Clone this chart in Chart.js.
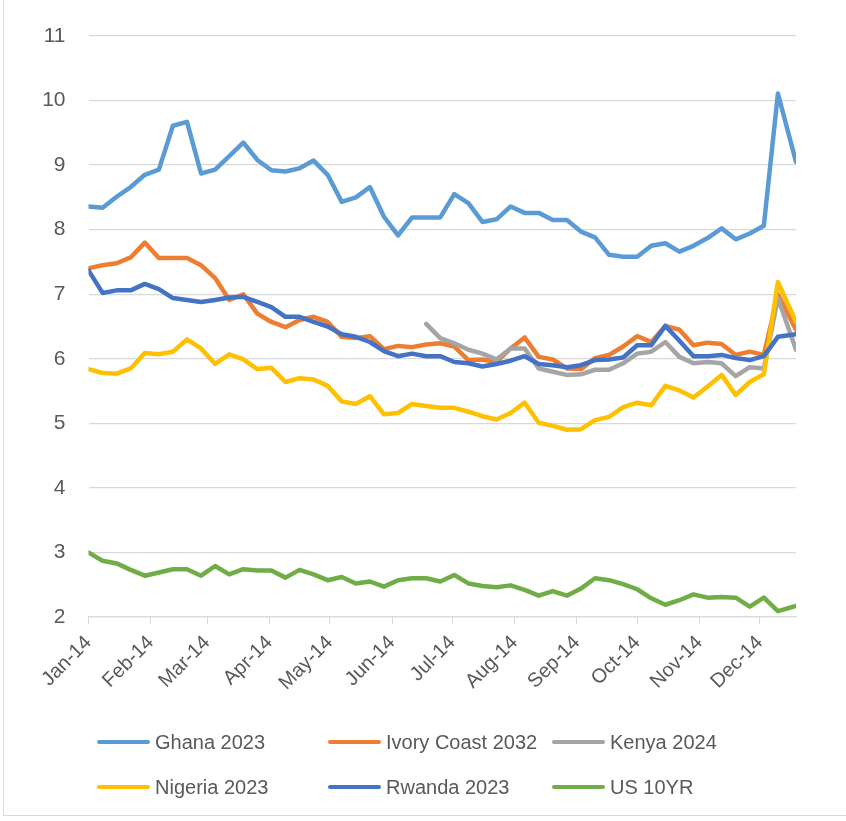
<!DOCTYPE html>
<html>
<head>
<meta charset="utf-8">
<script src="https://cdn.jsdelivr.net/npm/chart.js@4/dist/chart.umd.min.js"></script>
<style>
  html, body { margin: 0; padding: 0; background: #fff; }
  #wrap { position: relative; width: 846px; height: 821px; overflow: hidden; }
  #frame { position: absolute; left: 3px; top: -2px; width: 860px; height: 818px;
           border-left: 1px solid #d9d9d9; border-bottom: 1px solid #d9d9d9; box-sizing: border-box; }
  canvas { position: absolute; left: 0; top: 0; }
  #legend { position: absolute; left: 97px; top: 730px; width: 720px;
            display: grid; grid-template-columns: 231px 224px 230px; row-gap: 21px;
            font-family: "Liberation Sans", Arial, sans-serif; font-size: 20px; color: #595959; }
  .item { display: flex; align-items: center; white-space: nowrap; height: 24px; }
  .swatch { width: 53px; height: 4px; border-radius: 2px; margin-right: 5px; flex: none; }
</style>
</head>
<body>
<div id="wrap">
  <div id="frame"></div>
  <canvas id="chart" width="846" height="821"></canvas>
  <div id="legend"></div>
</div>
<script>
// Weekly observation dates (last one is a mid-week close)
const weekDates = [
  '2014-01-01','2014-01-08','2014-01-15','2014-01-22','2014-01-29',
  '2014-02-05','2014-02-12','2014-02-19','2014-02-26',
  '2014-03-05','2014-03-12','2014-03-19','2014-03-26',
  '2014-04-02','2014-04-09','2014-04-16','2014-04-23','2014-04-30',
  '2014-05-07','2014-05-14','2014-05-21','2014-05-28',
  '2014-06-04','2014-06-11','2014-06-18','2014-06-25',
  '2014-07-02','2014-07-09','2014-07-16','2014-07-23','2014-07-30',
  '2014-08-06','2014-08-13','2014-08-20','2014-08-27',
  '2014-09-03','2014-09-10','2014-09-17','2014-09-24',
  '2014-10-01','2014-10-08','2014-10-15','2014-10-22','2014-10-29',
  '2014-11-05','2014-11-12','2014-11-19','2014-11-26',
  '2014-12-03','2014-12-10','2014-12-19'
];

// Month ticks on the date axis
const monthStarts = ['2014-01-01','2014-02-01','2014-03-01','2014-04-01','2014-05-01','2014-06-01',
                     '2014-07-01','2014-08-01','2014-09-01','2014-10-01','2014-11-01','2014-12-01'];
const monthLabels = ['Jan-14','Feb-14','Mar-14','Apr-14','May-14','Jun-14',
                     'Jul-14','Aug-14','Sep-14','Oct-14','Nov-14','Dec-14'];

// Yields (%)
const ghana2023 = [8.36,8.34,8.51,8.66,8.85,8.93,9.61,9.67,8.87,8.93,
                   9.14,9.35,9.08,8.92,8.90,8.95,9.07,8.85,8.43,8.50,
                   8.66,8.20,7.91,8.19,8.19,8.19,8.55,8.41,8.12,8.16,
                   8.36,8.26,8.26,8.15,8.15,7.97,7.88,7.61,7.58,7.58,
                   7.75,7.79,7.66,7.75,7.87,8.02,7.85,7.94,8.06,10.11,9.05];
const ivoryCoast2032 = [7.40,7.45,7.48,7.57,7.80,7.56,7.56,7.56,7.45,7.25,
                        6.91,7.00,6.70,6.57,6.49,6.60,6.65,6.57,6.34,6.32,
                        6.35,6.15,6.20,6.18,6.22,6.24,6.19,5.98,5.99,5.95,
                        6.16,6.33,6.03,5.99,5.85,5.84,6.01,6.06,6.19,6.35,
                        6.26,6.51,6.45,6.21,6.25,6.23,6.06,6.11,6.06,7.00,6.45];
const kenya2024 = [null,null,null,null,null,null,null,null,null,null,
                   null,null,null,null,null,null,null,null,null,null,
                   null,null,null,null,6.54,6.32,6.24,6.14,6.08,5.99,
                   6.16,6.16,5.85,5.80,5.75,5.76,5.83,5.83,5.93,6.08,
                   6.11,6.26,6.03,5.93,5.95,5.93,5.73,5.87,5.85,6.94,6.14];
const nigeria2023 = [5.84,5.78,5.77,5.85,6.09,6.07,6.11,6.30,6.16,5.92,
                     6.07,5.99,5.84,5.86,5.64,5.70,5.68,5.58,5.34,5.30,
                     5.42,5.14,5.16,5.30,5.27,5.24,5.24,5.18,5.11,5.06,
                     5.16,5.32,5.01,4.96,4.90,4.91,5.05,5.10,5.25,5.32,
                     5.28,5.58,5.51,5.40,5.57,5.75,5.44,5.64,5.76,7.19,6.57];
const rwanda2023 = [7.37,7.02,7.06,7.06,7.16,7.08,6.94,6.91,6.88,6.91,
                    6.95,6.96,6.88,6.80,6.65,6.65,6.57,6.50,6.38,6.34,
                    6.26,6.12,6.04,6.08,6.04,6.04,5.95,5.93,5.88,5.92,
                    5.97,6.04,5.92,5.90,5.87,5.90,5.98,5.99,6.02,6.21,
                    6.21,6.51,6.28,6.04,6.04,6.06,6.01,5.98,6.04,6.34,6.38];
const us10yr = [3.00,2.87,2.83,2.73,2.64,2.69,2.74,2.74,2.64,2.79,
                2.66,2.74,2.72,2.72,2.61,2.73,2.66,2.57,2.62,2.52,
                2.55,2.47,2.57,2.60,2.60,2.55,2.65,2.52,2.48,2.46,
                2.49,2.42,2.33,2.40,2.33,2.44,2.60,2.57,2.51,2.43,
                2.29,2.19,2.26,2.35,2.30,2.31,2.30,2.16,2.30,2.09,2.17];

const seriesNames  = ['Ghana 2023','Ivory Coast 2032','Kenya 2024','Nigeria 2023','Rwanda 2023','US 10YR'];
const seriesValues = [ghana2023, ivoryCoast2032, kenya2024, nigeria2023, rwanda2023, us10yr];
const seriesColors = ['#5B9BD5','#ED7D31','#A5A5A5','#FFC000','#4472C4','#70AD47'];

const yTicks = [2,3,4,5,6,7,8,9,10,11];

const DAY = 86400000;
const origin = Date.parse(weekDates[0]);
const toDay = d => Math.round((Date.parse(d) - origin) / DAY);
const xDays = weekDates.map(toDay);
const monthDays = monthStarts.map(toDay);

const FONT = '"Liberation Sans", Arial, sans-serif';
const GRID = '#D9D9D9';
const TEXT = '#595959';

const datasets = seriesNames.map((name, i) => ({
  label: name,
  data: seriesValues[i].map((v, k) => ({ x: xDays[k], y: v })),
  borderColor: seriesColors[i],
  backgroundColor: seriesColors[i],
  borderWidth: 4.5,
  borderJoinStyle: 'round',
  borderCapStyle: 'round',
  pointRadius: 0,
  tension: 0,
  spanGaps: false,
  order: seriesNames.length - i
}));

new Chart(document.getElementById('chart'), {
  type: 'line',
  data: { datasets },
  options: {
    responsive: false,
    animation: false,
    events: [],
    layout: { padding: { top: 36, right: 50, bottom: 114, left: 0 } },
    plugins: { legend: { display: false }, tooltip: { enabled: false } },
    scales: {
      x: {
        type: 'linear',
        min: xDays[0],
        max: xDays[xDays.length - 1],
        afterBuildTicks: s => { s.ticks = monthDays.map(v => ({ value: v })); },
        afterFit: s => { s.height = 90; },
        grid: { drawOnChartArea: false, drawTicks: true, tickLength: 7, color: GRID, lineWidth: 1 },
        border: { display: true, color: GRID, width: 1.3 },
        ticks: {
          autoSkip: false,
          minRotation: 45,
          maxRotation: 45,
          padding: 7,
          color: TEXT,
          font: { family: FONT, size: 20 },
          callback: (v, i) => monthLabels[i]
        }
      },
      y: {
        min: yTicks[0],
        max: yTicks[yTicks.length - 1],
        afterBuildTicks: s => { s.ticks = yTicks.map(v => ({ value: v })); },
        afterFit: s => { s.width = 88.5; },
        grid: { drawTicks: false, color: GRID, lineWidth: 1.3 },
        border: { display: false },
        ticks: {
          padding: 23,
          color: TEXT,
          font: { family: FONT, size: 21 },
          callback: v => String(v)
        }
      }
    }
  }
});

// Legend laid out as a 3-column grid
const legend = document.getElementById('legend');
seriesNames.forEach((name, i) => {
  const item = document.createElement('div');
  item.className = 'item';
  const sw = document.createElement('span');
  sw.className = 'swatch';
  sw.style.background = seriesColors[i];
  const tx = document.createElement('span');
  tx.textContent = name;
  item.appendChild(sw);
  item.appendChild(tx);
  legend.appendChild(item);
});
</script>
</body>
</html>
